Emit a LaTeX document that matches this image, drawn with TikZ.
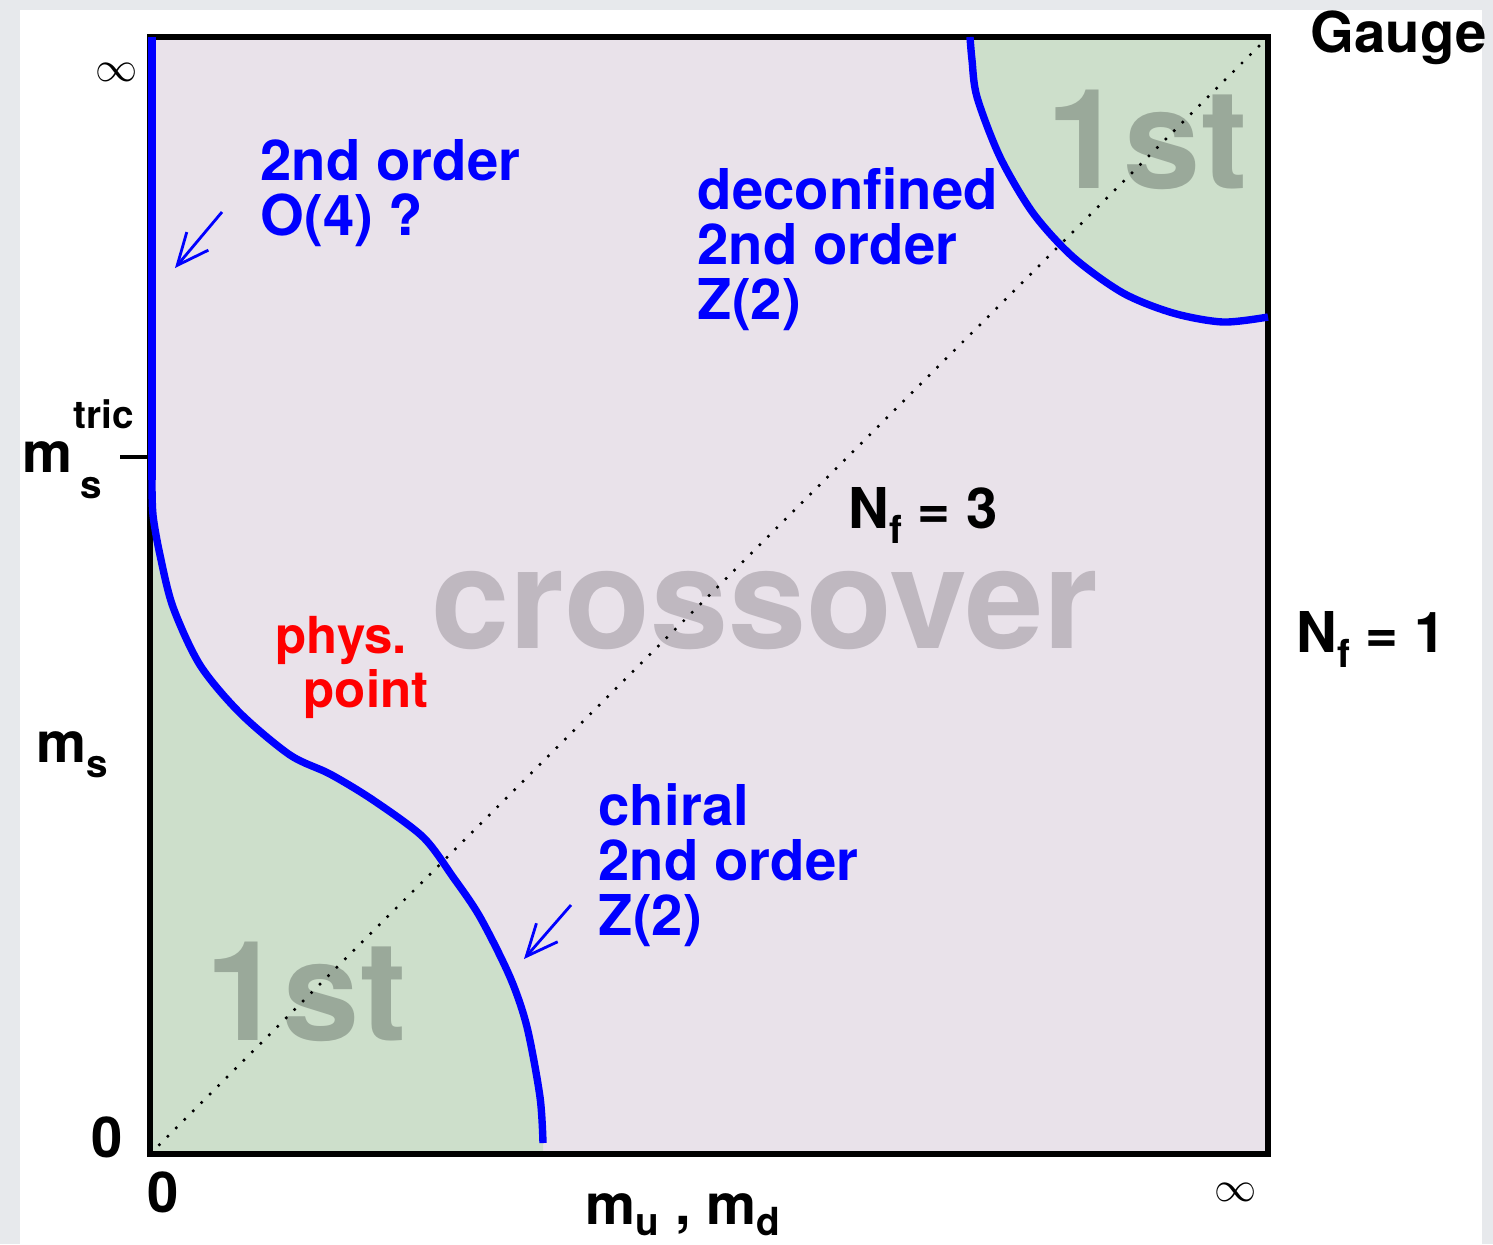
\documentclass[tikz,border=0pt]{standalone}
\usepackage{fontspec}
\setmainfont{TeX Gyre Heros}
\usetikzlibrary{arrows.meta}

\definecolor{framegray}{HTML}{E7E9EC}
\definecolor{lavbg}{HTML}{E9E2EA}
\definecolor{grnbg}{HTML}{CDDFCB}
\definecolor{firstgray}{HTML}{9AA99A}
\definecolor{crossgray}{HTML}{BFB8C0}
\definecolor{phaseblue}{HTML}{0000FF}
\definecolor{physred}{HTML}{FF0000}

\newcommand{\lowsub}[2][0.28em]{\raisebox{-#1}{\fontsize{11}{11}\selectfont #2}}

\begin{document}
\begin{tikzpicture}[
  x=0.01cm, y=-0.01cm,
  every node/.style={inner sep=0pt},
  bluetxt/.style={text=phaseblue, font=\fontsize{16}{15.6}\selectfont\bfseries,
                  align=left, anchor=north west},
  redtxt/.style={text=physred, font=\fontsize{14.5}{14.5}\selectfont\bfseries, anchor=base west},
  axistxt/.style={font=\fontsize{16}{16}\selectfont\bfseries},
  smalltxt/.style={font=\fontsize{11}{11}\selectfont\bfseries, anchor=base west},
  inftxt/.style={font=\fontsize{12}{12}\selectfont},
  bigword/.style={font=\fontsize{40}{40}\selectfont\bfseries, text=crossgray, anchor=base west},
  firstword/.style={font=\fontsize{39.5}{39.5}\selectfont\bfseries, text=firstgray, anchor=base},
  boundary/.style={phaseblue, line width=2.1pt},
  pointer/.style={phaseblue, line width=0.8pt, -{Straight Barb[length=9pt, width=8pt]}},
]
  % page and frame
  \fill[framegray] (0,0) rectangle (1493,1244);
  \fill[white] (20,10) rectangle (1482,1244);
  \useasboundingbox (0,0) rectangle (1493,1244);

  % phase regions
  \fill[lavbg] (150,37) rectangle (1268,1154);
  \fill[grnbg] plot[smooth] coordinates {(152,480) (153,515) (160,555) (173,607) (200,665)
      (240,713) (290,755) (330,774) (373,800) (423,837) (453,877) (480,917) (510,977)
      (527,1027) (540,1097) (543,1143)} -- (543,1154) -- (150,1154) -- cycle;
  \fill[grnbg] plot[smooth] coordinates {(970,37) (972,60) (977,97) (1000,157) (1033,213)
      (1073,257) (1123,293) (1173,313) (1223,322) (1268,317)} -- (1268,37) -- cycle;

  \node[bigword] (cross) at (431,648) {crossover};
  \node[firstword] (firstTR) at (1147,188) {1st};
  \node[firstword] (firstBL) at (306,1040) {1st};

  % N_f = 3 diagonal
  \coordinate (orig) at (150,1154);
  \coordinate (far) at (1268,37);
  \draw[line width=0.7pt, dash pattern=on 0.7pt off 2.7pt] (orig) -- (far);

  \draw[line width=1.8pt] (150,37) rectangle (1268,1154);
  \draw[line width=1.3pt] (120,457) -- (150,457);

  % transition lines
  \draw[boundary] (152,37) -- (152,480);
  \draw[boundary] plot[smooth] coordinates {(152,480) (153,515) (160,555) (173,607) (200,665)
      (240,713) (290,755) (330,774) (373,800) (423,837) (453,877) (480,917) (510,977)
      (527,1027) (540,1097) (543,1143)};
  \draw[boundary] plot[smooth] coordinates {(970,37) (972,60) (977,97) (1000,157) (1033,213)
      (1073,257) (1123,293) (1173,313) (1223,322) (1268,317)};

  % labels
  \node[bluetxt] (o4) at (260,139) {2nd order\\O(4) ?};
  \node[bluetxt] (deconf) at (697,167) {deconfined\\2nd order\\Z(2)};
  \node[bluetxt] (chiral) at (598,783) {chiral\\2nd order\\Z(2)};
  \node[redtxt] (phys) at (275,653) {phys.};
  \node[redtxt] (point) at (303,707) {point};

  \coordinate (o4tail) at (222,212);
  \coordinate (o4tip) at (175,268);
  \draw[pointer] (o4tail) -- (o4tip);
  \coordinate (chtail) at (571,905);
  \coordinate (chtip) at (524,959);
  \draw[pointer] (chtail) -- (chtip);

  \node[axistxt, anchor=base west] (nf3) at (848,528) {N\lowsub{f} = 3};
  \node[axistxt, anchor=base west] (nf1) at (1296,652) {N\lowsub{f} = 1};
  \node[axistxt, anchor=base west] (gauge) at (1310,52) {Gauge};

  \node[inftxt] (yinf) at (117,72) {$\infty$};
  \node[axistxt, anchor=base west] (mtric) at (22,472) {m};
  \node[smalltxt] (tric) at (73,428) {tric};
  \node[smalltxt] (strc) at (80,498) {s};
  \node[axistxt, anchor=base west] (ms) at (36,762) {m\lowsub{s}};
  \node[axistxt] (yzero) at (107,1137) {0};

  \node[axistxt] (xzero) at (163,1192) {0};
  \node[inftxt] (xinf) at (1236,1192) {$\infty$};
  \node[axistxt, anchor=base] (mumd) at (683,1224) {m\lowsub[0.2em]{u} , m\lowsub[0.2em]{d}};
\end{tikzpicture}
\end{document}
